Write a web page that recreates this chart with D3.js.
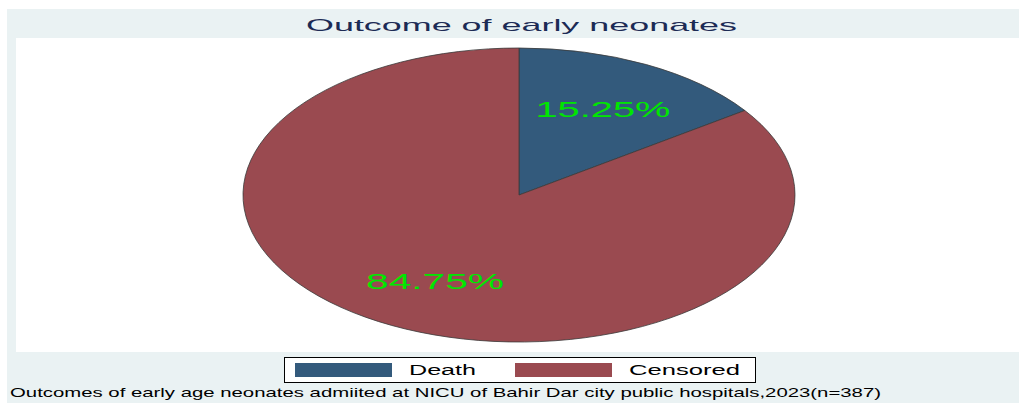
<!DOCTYPE html>
<html>
<head>
<meta charset="utf-8">
<script src="https://d3js.org/d3.v7.min.js"></script>
<style>
  body { margin: 0; background: white; }
  svg { display: block; font-family: "Liberation Sans", Arial, sans-serif; }
</style>
</head>
<body>
<svg id="chart" width="1019" height="403"></svg>
<script>
// data
var categories = ["Death", "Censored"];
var percents = [15.25, 84.75];
var sliceColors = ["#335a7c", "#9a4a50"];
var titleText = "Outcome of early neonates";
var noteText = "Outcomes of early age neonates admiited at NICU of Bahir Dar city public hospitals,2023(n=387)";

var svg = d3.select("#chart");

// backgrounds (stata style)
svg.append("rect").attr("x", 7).attr("y", 9).attr("width", 1012).attr("height", 394).attr("fill", "#eaf2f3");
svg.append("rect").attr("x", 16).attr("y", 38).attr("width", 1003).attr("height", 314).attr("fill", "white");

// title
svg.append("text")
  .attr("x", 306).attr("y", 31)
  .attr("font-size", 17)
  .attr("fill", "#1c2b55")
  .attr("textLength", 431).attr("lengthAdjust", "spacingAndGlyphs")
  .text(titleText);

// pie - the original is horizontally stretched, so draw a circle and scale x
var cx = 519, cy = 195, ry = 147, rx = 276;
var stretch = rx / ry;
var color = d3.scaleOrdinal().domain(categories).range(sliceColors);
var pie = d3.pie().sort(null).value(function(d) { return d.v; });
var arcs = pie(categories.map(function(c, i) { return {c: c, v: percents[i]}; }));
var arc = d3.arc().innerRadius(0).outerRadius(ry);
var labelArc = d3.arc().innerRadius(ry * 0.66).outerRadius(ry * 0.66);

var g = svg.append("g").attr("transform", "translate(" + cx + "," + cy + ") scale(" + stretch + ",1)");
g.selectAll("path")
  .data(arcs)
  .enter().append("path")
  .attr("d", arc)
  .attr("fill", function(d) { return color(d.data.c); })
  .attr("stroke", "#3a3a3a")
  .attr("stroke-width", 0.8)
  .attr("vector-effect", "non-scaling-stroke");

var labelWidths = [135, 138];
svg.selectAll("text.lbl")
  .data(arcs)
  .enter().append("text")
  .attr("class", "lbl")
  .attr("x", function(d) { return cx + labelArc.centroid(d)[0] * stretch - labelWidths[d.index] / 2; })
  .attr("y", function(d) { return cy + labelArc.centroid(d)[1] + 8; })
  .attr("font-size", 22)
  .attr("fill", "#00e600")
  .attr("textLength", function(d) { return labelWidths[d.index]; })
  .attr("lengthAdjust", "spacingAndGlyphs")
  .text(function(d) { return d.data.v.toFixed(2) + "%"; });

// legend
svg.append("rect").attr("x", 284.5).attr("y", 357.5).attr("width", 471).attr("height", 25)
  .attr("fill", "white").attr("stroke", "black").attr("stroke-width", 1);
var legX = d3.scaleOrdinal().domain(categories).range([295, 515]);
var legTextW = [67, 111];
var leg = svg.selectAll("g.leg")
  .data(categories)
  .enter().append("g")
  .attr("class", "leg")
  .attr("transform", function(d) { return "translate(" + legX(d) + ",363)"; });
leg.append("rect").attr("width", 97).attr("height", 14).attr("fill", function(d) { return color(d); });
leg.append("text")
  .attr("x", 114).attr("y", 12)
  .attr("font-size", 14)
  .attr("fill", "black")
  .attr("textLength", function(d, i) { return legTextW[i]; })
  .attr("lengthAdjust", "spacingAndGlyphs")
  .text(function(d) { return d; });

// note
svg.append("text")
  .attr("x", 10).attr("y", 397)
  .attr("font-size", 13)
  .attr("fill", "black")
  .attr("textLength", 871).attr("lengthAdjust", "spacingAndGlyphs")
  .text(noteText);
</script>
</body>
</html>
